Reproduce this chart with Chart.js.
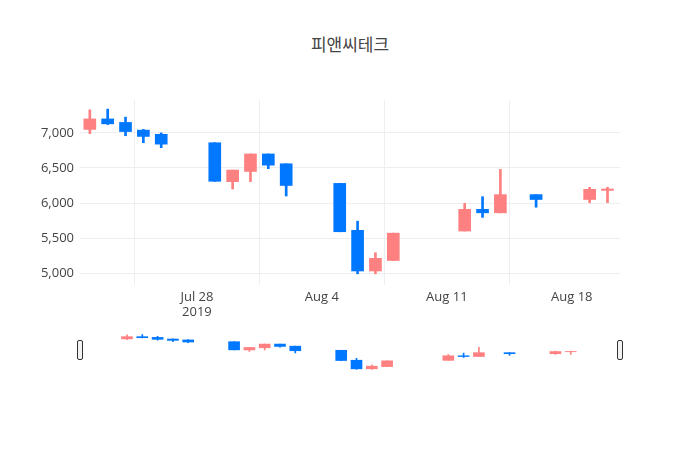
<!DOCTYPE html>
<html><head><meta charset="utf-8">
<script src="https://cdn.jsdelivr.net/npm/chart.js@4"></script>
<style>body{margin:0;width:700px;height:450px;position:relative;background:#fff;font-family:"Open Sans",sans-serif}
#t{position:absolute;top:31px;left:0;width:700px;text-align:center;font-size:17px;color:#444;font-family:"Noto Sans CJK KR","Open Sans"}
.h{position:absolute;top:340px;width:4px;height:18px;border:1px solid #333;border-radius:2px;background:#f2f2f2}
</style></head><body>
<div id="t">피앤씨테크</div>
<canvas id="c" width="700" height="450" style="position:absolute;left:0;top:0"></canvas>
<canvas id="s" width="540" height="36" style="position:absolute;left:80px;top:334px"></canvas>
<div class="h" style="left:77px"></div><div class="h" style="left:617px"></div>
<script>
// day offset from 2019-07-28
const days = [-6,-5,-4,-3,-2, 1,2,3,4,5, 8,9,10,11, 15,16,17,19, 22,23];
const open  = [7050,7200,7150,7040,6980, 6860,6305,6450,6700,6560, 6280,5610,5030,5180, 5600,5910,5860,6120, 6050,6180];
const high  = [7330,7340,7225,7050,7000, 6860,6470,6700,6700,6560, 6280,5740,5290,5570, 5995,6090,6480,6120, 6225,6225];
const low   = [6990,7120,6960,6860,6790, 6310,6200,6305,6490,6100, 5590,4990,4990,5180, 5600,5795,5860,5940, 6005,6005];
const close = [7200,7130,7020,6950,6840, 6310,6470,6700,6540,6250, 5590,5030,5210,5570, 5910,5860,6120,6050, 6195,6200];
const tickDays = [0,7,14,21];
const tickLabels = [["Jul 28","2019"],["Aug 4"],["Aug 11"],["Aug 18"]];
const UP='#ff8080', DN='#0077ff';
const col = days.map((d,i)=>close[i]>=open[i]?UP:DN);
function sets(bw,ww){return [
 {data:days.map((d,i)=>({x:d,y:[low[i],high[i]]})),backgroundColor:col,barThickness:ww,grouped:false},
 {data:days.map((d,i)=>({x:d,y:[Math.min(open[i],close[i]),Math.max(open[i],close[i])]})),backgroundColor:col,barThickness:bw,grouped:false}
];}
new Chart(document.getElementById('c'),{type:'bar',data:{datasets:sets(12,2)},
options:{responsive:false,animation:false,layout:{padding:{top:100,right:80,bottom:125,left:0}},
plugins:{legend:{display:false},tooltip:{enabled:false}},
scales:{x:{type:'linear',min:-6.55,max:23.7,offset:false,
 afterBuildTicks:s=>{s.ticks=tickDays.map(v=>({value:v}));},
 afterFit:s=>{s.height=40;},
 ticks:{callback:(v)=>tickLabels[tickDays.indexOf(v)],color:'#444',font:{size:13,family:'Open Sans'},maxRotation:0,padding:4},
 grid:{color:'#eee',drawTicks:false},border:{display:false}},
 y:{min:4830,max:7470,afterBuildTicks:s=>{s.ticks=[5000,5500,6000,6500,7000].map(v=>({value:v}));},
 afterFit:s=>{s.width=80;},
 ticks:{color:'#444',font:{size:13,family:'Open Sans'},padding:6},
 grid:{color:'#eee',drawTicks:false},border:{display:false}}}}});
new Chart(document.getElementById('s'),{type:'bar',data:{datasets:sets(11,1)},
options:{responsive:false,animation:false,layout:{padding:0},plugins:{legend:{display:false},tooltip:{enabled:false}},
scales:{x:{type:'linear',min:-6.55,max:23.7,display:false},y:{min:4950,max:7380,display:false}}}});
</script></body></html>
